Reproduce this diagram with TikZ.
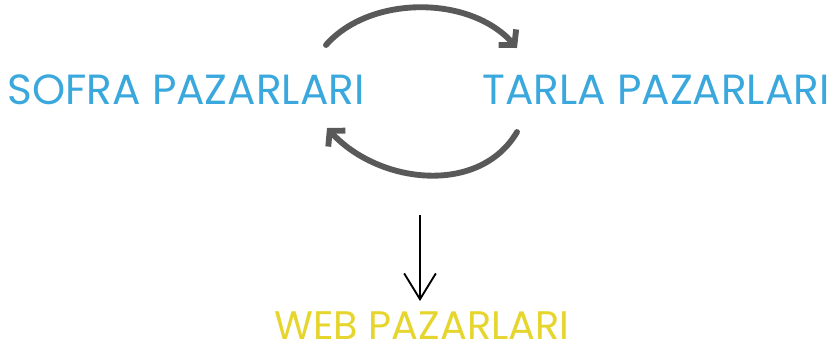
\documentclass[tikz,border=0pt]{standalone}
\usepackage{fontspec}
\setmainfont{Poppins}
\usetikzlibrary{arrows.meta}
\definecolor{pazarblue}{HTML}{3AA8DC}
\definecolor{webyellow}{HTML}{E6D52C}
\definecolor{arcgray}{HTML}{595959}
\tikzset{
  market/.style={inner sep=0pt,font=\fontsize{36}{36}\selectfont},
  cycle/.style={draw=arcgray,line width=5pt,line cap=round,-{Straight Barb[length=9pt,width=20pt,line width=5pt]}},
}
\begin{document}
\begin{tikzpicture}[x=0.03cm,y=-0.03cm]
  \useasboundingbox (0,0) rectangle (828,355);
  \node[market,text=pazarblue] (sofra) at (186,90) {SOFRA PAZARLARI};
  \node[market,text=pazarblue] (tarla) at (656,90) {TARLA PAZARLARI};
  \node[market,text=webyellow,font=\fontsize{34}{34}\selectfont] (web) at (422,326) {WEB PAZARLARI};
  \coordinate (a) at (326,45);
  \coordinate (b) at (517,48);
  \coordinate (c) at (517,132);
  \coordinate (d) at (327,128);
  \draw[cycle] (a) .. controls (370,-5) and (470,-5) .. (b);
  \draw[cycle] (c) .. controls (480,195) and (380,185) .. (d);
  \coordinate (top) at (420,215);
  \coordinate (tip) at (420,301);
  \draw[line width=1.6pt,-{Straight Barb[length=22pt,width=27pt,line width=1.6pt]}] (top) -- (tip);
\end{tikzpicture}
\end{document}
